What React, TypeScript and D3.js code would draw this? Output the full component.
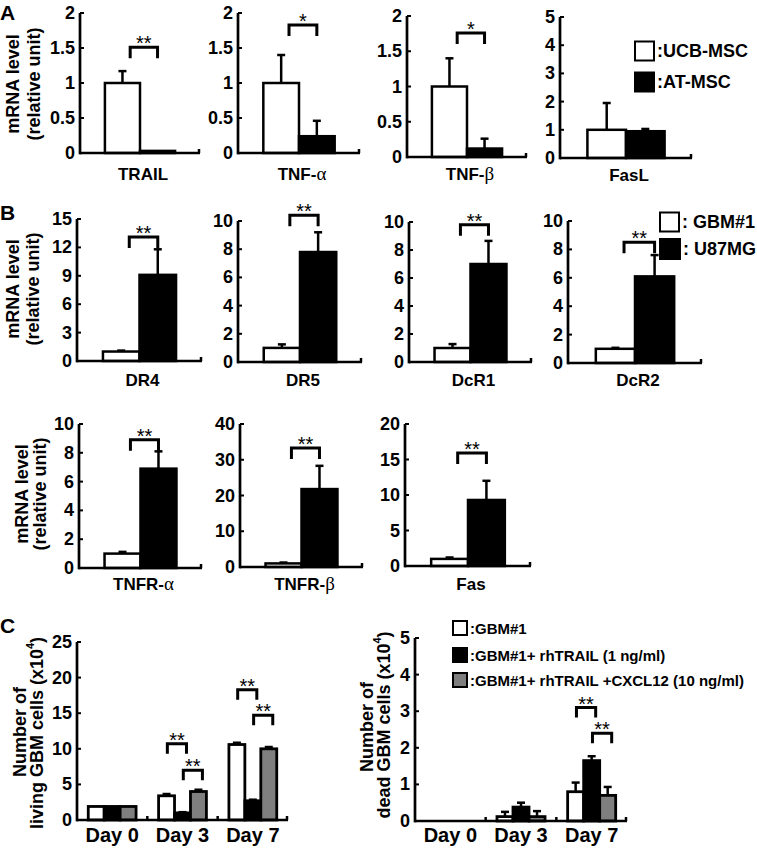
import React from 'react';
import * as d3 from 'd3';

const SANS = "'Liberation Sans', Arial, Helvetica, sans-serif";
const SERIF = "'Liberation Serif', 'DejaVu Serif', serif";

// ---------- Panel A data ----------
const aGenes = ['TRAIL', 'TNF-α', 'TNF-β', 'FasL'];
const aUCB = [1.0, 1.0, 1.0, 1.0];
const aUCBErr = [0.17, 0.4, 0.4, 0.95];
const aAT = [0.03, 0.24, 0.12, 0.95];
const aATErr = [0, 0.22, 0.14, 0.08];
const aYMax = [2, 2, 2, 5];
const aTicks = [
  [0, 0.5, 1, 1.5, 2],
  [0, 0.5, 1, 1.5, 2],
  [0, 0.5, 1, 1.5, 2],
  [0, 1, 2, 3, 4, 5],
];
const aSig = ['**', '*', '*', ''];
const aSigLevel = [1.51, 1.83, 1.76, 0];
const aLegend = [':UCB-MSC', ':AT-MSC'];

// ---------- Panel B data ----------
const bGenes = ['DR4', 'DR5', 'DcR1', 'DcR2', 'TNFR-α', 'TNFR-β', 'Fas'];
const bGBM = [1.0, 1.0, 1.0, 1.0, 1.0, 1.0, 1.0];
const bGBMErr = [0.1, 0.25, 0.28, 0.07, 0.12, 0.25, 0.2];
const bU87 = [9.1, 7.8, 7.0, 6.1, 6.9, 21.8, 9.3];
const bU87Err = [2.7, 1.4, 1.65, 1.5, 1.2, 6.5, 2.7];
const bYMax = [15, 10, 10, 10, 10, 40, 20];
const bTicks = [
  [0, 3, 6, 9, 12, 15],
  [0, 2, 4, 6, 8, 10],
  [0, 2, 4, 6, 8, 10],
  [0, 2, 4, 6, 8, 10],
  [0, 2, 4, 6, 8, 10],
  [0, 10, 20, 30, 40],
  [0, 5, 10, 15, 20],
];
const bSig = ['**', '**', '**', '**', '**', '**', '**'];
const bSigLevel = [13.1, 10.4, 9.8, 8.5, 8.9, 33.3, 15.9];
const bLegend = [': GBM#1', ': U87MG'];

// ---------- Panel C data ----------
const days = ['Day 0', 'Day 3', 'Day 7'];
const cLegend = [':GBM#1', ':GBM#1+ rhTRAIL (1 ng/ml)', ':GBM#1+ rhTRAIL +CXCL12 (10 ng/ml)'];
const livingGBM = [1.9, 3.4, 10.6];
const livingGBMErr = [0.05, 0.25, 0.25];
const livingTRAIL = [1.9, 1.0, 2.7];
const livingTRAILErr = [0.05, 0.1, 0.15];
const livingCXCL = [1.9, 4.0, 10.0];
const livingCXCLErr = [0.05, 0.25, 0.25];
const livingTicks = [0, 5, 10, 15, 20, 25];
const livingSig = [
  { day: 1, a: 0, b: 1, level: 10.7 },
  { day: 1, a: 1, b: 2, level: 7.0 },
  { day: 2, a: 0, b: 1, level: 18.3 },
  { day: 2, a: 1, b: 2, level: 14.7 },
];
const deadGBM = [0, 0.12, 0.8];
const deadGBMErr = [0, 0.13, 0.25];
const deadTRAIL = [0, 0.38, 1.65];
const deadTRAILErr = [0, 0.12, 0.12];
const deadCXCL = [0, 0.12, 0.7];
const deadCXCLErr = [0, 0.15, 0.23];
const deadTicks = [0, 1, 2, 3, 4, 5];
const deadSig = [
  { day: 2, a: 0, b: 1, level: 3.1 },
  { day: 2, a: 1, b: 2, level: 2.4 },
];

// ---------- layout ----------
const layoutA = [
  { axisX: 80, endX: 200, topY: 13, zeroY: 153, labelY: 180 },
  { axisX: 238, endX: 360, topY: 13, zeroY: 153, labelY: 180 },
  { axisX: 407, endX: 527, topY: 16, zeroY: 157, labelY: 180 },
  { axisX: 560, endX: 692, topY: 17, zeroY: 158, labelY: 181 },
];
const layoutB = [
  { axisX: 77, endX: 202, topY: 219, zeroY: 361, labelY: 386 },
  { axisX: 238, endX: 362, topY: 221, zeroY: 362, labelY: 386 },
  { axisX: 409, endX: 532, topY: 222, zeroY: 362, labelY: 386 },
  { axisX: 568, endX: 702, topY: 221, zeroY: 363, labelY: 386 },
  { axisX: 79, endX: 202, topY: 424, zeroY: 568, labelY: 590 },
  { axisX: 240, endX: 363, topY: 424, zeroY: 567, labelY: 590 },
  { axisX: 405, endX: 531, topY: 424, zeroY: 566, labelY: 590 },
];
const layoutCLiving = { axisX: 77, endX: 288, topY: 642, zeroY: 820 };
const layoutCDead = { axisX: 415, endX: 627, topY: 638, zeroY: 821 };

const AXIS_W = 2.7;
const BAR_W = 2.5;
const GREY = '#7f7f7f';

function GeneLabel({ name, x, y, size }: { name: string; x: number; y: number; size: number }) {
  const last = name.slice(-1);
  const greek = last === 'α' || last === 'β';
  return (
    <text x={x} y={y} textAnchor="middle" fontFamily={SANS} fontWeight="bold" fontSize={size} fill="#000">
      {greek ? name.slice(0, -1) : name}
      {greek && (
        <tspan fontFamily={SERIF} fontWeight="normal" fontSize={size + 2}>
          {last}
        </tspan>
      )}
    </text>
  );
}

function Stars({ x, y, s }: { x: number; y: number; s: string }) {
  return (
    <text x={x} y={y} textAnchor="middle" fontFamily={SANS} fontSize={20} fill="#000">
      {s}
    </text>
  );
}

function YAxis({ axisX, topY, zeroY, y, ticks, size }: any) {
  return (
    <g>
      <line x1={axisX} x2={axisX} y1={topY} y2={zeroY + AXIS_W / 2} stroke="#000" strokeWidth={AXIS_W} />
      {ticks.map((t: number) => (
        <g key={t}>
          <line x1={axisX} x2={axisX + 4} y1={y(t)} y2={y(t)} stroke="#000" strokeWidth={2} />
          <text
            x={axisX - 5}
            y={y(t)}
            textAnchor="end"
            dominantBaseline="central"
            fontFamily={SANS}
            fontWeight="bold"
            fontSize={size}
            fill="#000"
          >
            {String(t)}
          </text>
        </g>
      ))}
    </g>
  );
}

function Bracket({ x1, x2, top, drop, s }: { x1: number; x2: number; top: number; drop: number; s: string }) {
  return (
    <g>
      <path
        d={`M${x1},${top + drop}V${top}H${x2}V${top + drop}`}
        fill="none"
        stroke="#000"
        strokeWidth={3}
      />
      <Stars x={(x1 + x2) / 2} y={top + 3} s={s} />
    </g>
  );
}

function ErrBar({ cx, y0, y1 }: { cx: number; y0: number; y1: number }) {
  if (Math.abs(y0 - y1) < 0.5) return null;
  return (
    <g>
      <line x1={cx} x2={cx} y1={y0} y2={y1} stroke="#000" strokeWidth={2.5} />
      <line x1={cx - 4} x2={cx + 4} y1={y1} y2={y1} stroke="#000" strokeWidth={2.5} />
    </g>
  );
}

function TwoBarPanel(props: {
  lay: { axisX: number; endX: number; topY: number; zeroY: number; labelY: number };
  name: string;
  w: number;
  we: number;
  b: number;
  be: number;
  ymax: number;
  ticks: number[];
  sig: string;
  sigLevel: number;
}) {
  const { lay, name, w, we, b, be, ymax, ticks, sig, sigLevel } = props;
  const y = d3.scaleLinear().domain([0, ymax]).range([lay.zeroY, lay.topY]);
  const x = d3
    .scaleBand<string>()
    .domain(['w', 'b'])
    .range([lay.axisX, lay.endX])
    .paddingInner(0)
    .paddingOuter(0.71);
  const bw = x.bandwidth();
  const xw = x('w')!;
  const xb = x('b')!;
  return (
    <g>
      <rect x={xw} y={y(w)} width={bw} height={y(0) - y(w)} fill="#fff" stroke="#000" strokeWidth={BAR_W} />
      <rect x={xb} y={y(b)} width={bw} height={y(0) - y(b)} fill="#000" stroke="#000" strokeWidth={BAR_W} />
      <ErrBar cx={xw + bw / 2} y0={y(w)} y1={y(w + we)} />
      <ErrBar cx={xb + bw / 2} y0={y(b)} y1={y(b + be)} />
      <YAxis axisX={lay.axisX} topY={lay.topY} zeroY={lay.zeroY} y={y} ticks={ticks} size={18} />
      <line x1={lay.axisX} x2={lay.endX} y1={lay.zeroY} y2={lay.zeroY} stroke="#000" strokeWidth={AXIS_W} />
      <line x1={lay.endX - 1} x2={lay.endX - 1} y1={lay.zeroY} y2={lay.zeroY - 4} stroke="#000" strokeWidth={2.5} />
      {sig && (
        <Bracket x1={xw + bw * 0.72} x2={xb + bw * 0.5} top={y(sigLevel)} drop={11} s={sig} />
      )}
      <GeneLabel name={name} x={(xw + xb + bw) / 2 + 3} y={lay.labelY} size={17} />
    </g>
  );
}

function GroupPanel(props: {
  lay: { axisX: number; endX: number; topY: number; zeroY: number };
  series: number[][];
  errs: number[][];
  ymax: number;
  ticks: number[];
  sigs: { day: number; a: number; b: number; level: number }[];
}) {
  const { lay, series, errs, ymax, ticks, sigs } = props;
  const y = d3.scaleLinear().domain([0, ymax]).range([lay.zeroY, lay.topY]);
  const x = d3
    .scaleBand<string>()
    .domain(days)
    .range([lay.axisX, lay.endX])
    .paddingInner(0.32)
    .paddingOuter(0.16);
  const sub = d3.scaleBand<number>().domain([0, 1, 2]).range([0, x.bandwidth()]);
  const bw = sub.bandwidth();
  const fills = ['#fff', '#000', GREY];
  const step = x.step();
  return (
    <g>
      {days.map((d, di) =>
        series.map((s, si) => {
          const v = s[di];
          if (v <= 0) return null;
          const bx = x(d)! + sub(si)!;
          return (
            <g key={d + si}>
              <rect x={bx} y={y(v)} width={bw} height={y(0) - y(v)} fill={fills[si]} stroke="#000" strokeWidth={2.8} />
              <ErrBar cx={bx + bw / 2} y0={y(v)} y1={y(v + errs[si][di])} />
            </g>
          );
        })
      )}
      <YAxis axisX={lay.axisX} topY={lay.topY} zeroY={lay.zeroY} y={y} ticks={ticks} size={18} />
      <line x1={lay.axisX} x2={lay.endX} y1={lay.zeroY} y2={lay.zeroY} stroke="#000" strokeWidth={AXIS_W} />
      {[1, 2, 3].map((i) => {
        const tx = Math.min(lay.axisX + step * i, lay.endX - 1);
        return <line key={i} x1={tx} x2={tx} y1={lay.zeroY} y2={lay.zeroY - 4} stroke="#000" strokeWidth={2.5} />;
      })}
      {days.map((d) => (
        <text
          key={d}
          x={x(d)! + x.bandwidth() / 2}
          y={842}
          textAnchor="middle"
          fontFamily={SANS}
          fontWeight="bold"
          fontSize={20}
          fill="#000"
        >
          {d}
        </text>
      ))}
      {sigs.map((s, i) => {
        const x1 = x(days[s.day])! + sub(s.a)! + bw * 0.55;
        const x2 = x(days[s.day])! + sub(s.b)! + bw * 0.75;
        return <Bracket key={i} x1={x1} x2={x2} top={y(s.level)} drop={10} s="**" />;
      })}
    </g>
  );
}

function RotText({ x, y, children, size = 18 }: any) {
  return (
    <text
      transform={`translate(${x},${y}) rotate(-90)`}
      textAnchor="middle"
      dominantBaseline="central"
      fontFamily={SANS}
      fontWeight="bold"
      fontSize={size}
      fill="#000"
    >
      {children}
    </text>
  );
}

function LegendItem({ x, y, s, fill, label, size }: any) {
  return (
    <g>
      <rect x={x} y={y - s / 2} width={s} height={s} fill={fill} stroke="#000" strokeWidth={2} />
      <text
        x={x + s + 3}
        y={y}
        dominantBaseline="central"
        fontFamily={SANS}
        fontWeight="bold"
        fontSize={size}
        fill="#000"
      >
        {label}
      </text>
    </g>
  );
}

export default function App() {
  return (
    <svg
      width={757}
      height={848}
      viewBox="0 0 757 848"
      style={{ position: 'absolute', left: 0, top: 0, background: '#fff' }}
    >
      <rect x={0} y={0} width={757} height={848} fill="#fff" />
      {/* Panel letters */}
      <text x={0} y={20} fontFamily={SANS} fontWeight="bold" fontSize={21}>A</text>
      <text x={0} y={220} fontFamily={SANS} fontWeight="bold" fontSize={21}>B</text>
      <text x={0} y={633} fontFamily={SANS} fontWeight="bold" fontSize={21}>C</text>

      {/* y titles */}
      <RotText x={13} y={84}>mRNA level</RotText>
      <RotText x={34} y={84}>(relative unit)</RotText>
      <RotText x={13} y={289}>mRNA level</RotText>
      <RotText x={33} y={289}>(relative unit)</RotText>
      <RotText x={22} y={494}>mRNA level</RotText>
      <RotText x={40} y={494}>(relative unit)</RotText>

      {/* Panel A */}
      {aGenes.map((g, i) => (
        <TwoBarPanel
          key={g}
          lay={layoutA[i]}
          name={g}
          w={aUCB[i]}
          we={aUCBErr[i]}
          b={aAT[i]}
          be={aATErr[i]}
          ymax={aYMax[i]}
          ticks={aTicks[i]}
          sig={aSig[i]}
          sigLevel={aSigLevel[i]}
        />
      ))}
      <LegendItem x={635} y={51} s={19} fill="#fff" label={aLegend[0]} size={18} />
      <LegendItem x={635} y={82} s={19} fill="#000" label={aLegend[1]} size={18} />

      {/* Panel B */}
      {bGenes.map((g, i) => (
        <TwoBarPanel
          key={g}
          lay={layoutB[i]}
          name={g}
          w={bGBM[i]}
          we={bGBMErr[i]}
          b={bU87[i]}
          be={bU87Err[i]}
          ymax={bYMax[i]}
          ticks={bTicks[i]}
          sig={bSig[i]}
          sigLevel={bSigLevel[i]}
        />
      ))}
      <LegendItem x={660} y={222} s={19} fill="#fff" label={bLegend[0]} size={18} />
      <LegendItem x={660} y={249} s={20} fill="#000" label={bLegend[1]} size={18} />

      {/* Panel C */}
      <RotText x={20} y={732}>Number of</RotText>
      <RotText x={37} y={733}>
        living GBM cells (x10<tspan dy={-7} fontSize={11}>4</tspan>
        <tspan dy={7}>)</tspan>
      </RotText>
      <GroupPanel
        lay={layoutCLiving}
        series={[livingGBM, livingTRAIL, livingCXCL]}
        errs={[livingGBMErr, livingTRAILErr, livingCXCLErr]}
        ymax={25}
        ticks={livingTicks}
        sigs={livingSig}
      />

      <RotText x={367} y={727}>Number of</RotText>
      <RotText x={384} y={725}>
        dead GBM cells (x10<tspan dy={-7} fontSize={11}>4</tspan>
        <tspan dy={7}>)</tspan>
      </RotText>
      <GroupPanel
        lay={layoutCDead}
        series={[deadGBM, deadTRAIL, deadCXCL]}
        errs={[deadGBMErr, deadTRAILErr, deadCXCLErr]}
        ymax={5}
        ticks={deadTicks}
        sigs={deadSig}
      />
      <LegendItem x={453} y={628} s={14} fill="#fff" label={cLegend[0]} size={15} />
      <LegendItem x={453} y={655} s={14} fill="#000" label={cLegend[1]} size={15} />
      <LegendItem x={453} y={680} s={14} fill={GREY} label={cLegend[2]} size={15} />
    </svg>
  );
}
